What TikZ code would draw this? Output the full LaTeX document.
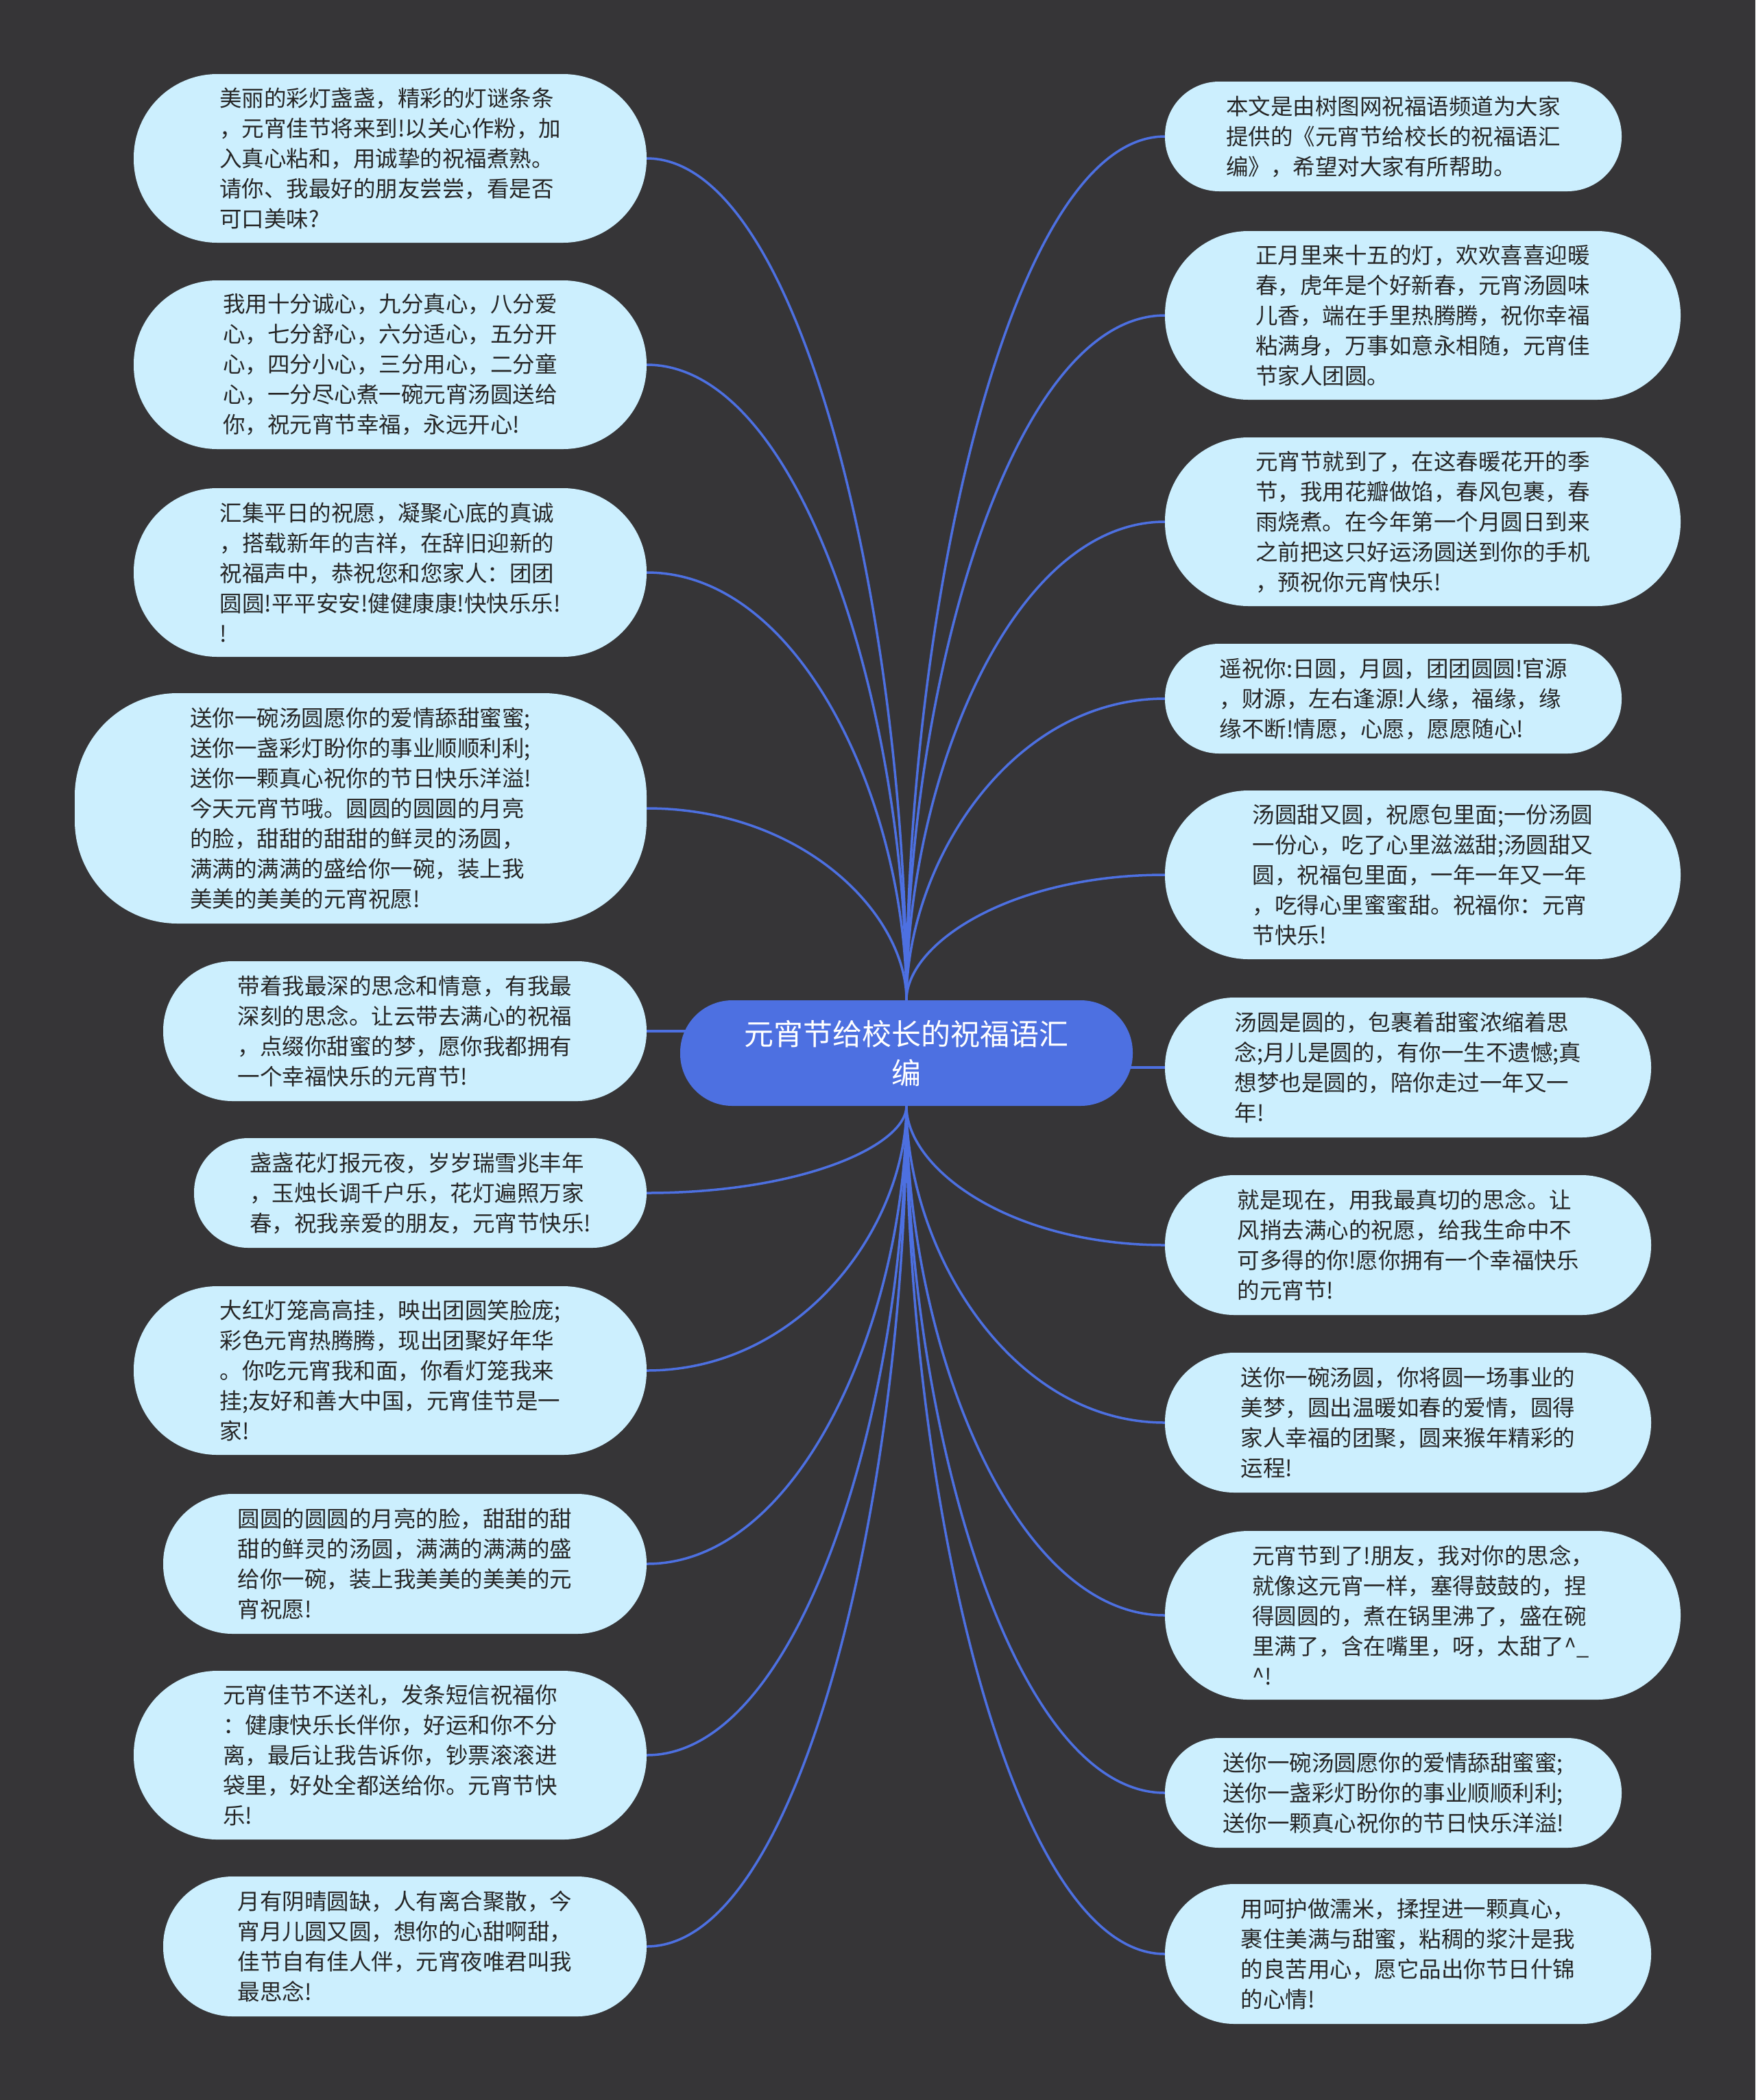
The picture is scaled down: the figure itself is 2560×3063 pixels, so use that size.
\documentclass[tikz,border=0pt]{standalone}
\usepackage{fontspec}
\setmainfont{Noto Sans CJK SC}
\usetikzlibrary{calc}
\pgfdeclarelayer{bg}
\pgfsetlayers{bg,main}
\definecolor{bgc}{HTML}{363537}
\definecolor{leaffill}{HTML}{CCEFFE}
\definecolor{leaftext}{HTML}{262626}
\definecolor{rootfill}{HTML}{4D70E1}
\definecolor{linec}{HTML}{4D70E1}
\newcommand\leaffont{\fontsize{32.5pt}{44pt}\selectfont}
\newcommand\rootfont{\fontsize{43pt}{57pt}\selectfont}
\newcommand\mmconn[2]{\draw[conn] (#1) .. controls ($(#1)!0.45!(#1 |- #2)$) and ($(#1 |- #2)!0.4!(#2)$) .. (#2);}
\tikzset{
  leaf/.style={fill=leaffill, text=leaftext, font=\leaffont, align=left, inner sep=0pt, minimum width=#1},
  hthree/.style={minimum height=160pt, rounded corners=79pt},
  hfour/.style={minimum height=204pt, rounded corners=101pt},
  hfive/.style={minimum height=246pt, rounded corners=122pt},
  hseven/.style={minimum height=336pt, rounded corners=150pt},
  rootbox/.style={fill=rootfill, text=white, font=\rootfont, align=center, inner sep=0pt,
    minimum width=660pt, minimum height=154pt, rounded corners=76pt},
  conn/.style={draw=linec, line width=3.5pt, line cap=round}
}
\begin{document}
\begin{tikzpicture}[x=1pt,y=-1pt]
\useasboundingbox (0,0) rectangle (2560,3063);
% central
\node[rootbox] (c) at (1322,1536) {元宵节给校长的祝福语汇\\编};
% left
\node[leaf=748pt,hfive] (L1) at (569,231) {美丽的彩灯盏盏，精彩的灯谜条条\\，元宵佳节将来到!以关心作粉，加\\入真心粘和，用诚挚的祝福煮熟。\\请你、我最好的朋友尝尝，看是否\\可口美味?};
\node[leaf=748pt,hfive] (L2) at (569,532) {我用十分诚心，九分真心，八分爱\\心，七分舒心，六分适心，五分开\\心，四分小心，三分用心，二分童\\心，一分尽心煮一碗元宵汤圆送给\\你，祝元宵节幸福，永远开心!};
\node[leaf=748pt,hfive] (L3) at (569,835) {汇集平日的祝愿，凝聚心底的真诚\\，搭载新年的吉祥，在辞旧迎新的\\祝福声中，恭祝您和您家人：团团\\圆圆!平平安安!健健康康!快快乐乐!\\!};
\node[leaf=834pt,hseven] (L4) at (526,1179) {送你一碗汤圆愿你的爱情舔甜蜜蜜;\\送你一盏彩灯盼你的事业顺顺利利;\\送你一颗真心祝你的节日快乐洋溢!\\今天元宵节哦。圆圆的圆圆的月亮\\的脸，甜甜的甜甜的鲜灵的汤圆，\\满满的满满的盛给你一碗，装上我\\美美的美美的元宵祝愿!};
\node[leaf=705pt,hfour] (L5) at (590.5,1504) {带着我最深的思念和情意，有我最\\深刻的思念。让云带去满心的祝福\\，点缀你甜蜜的梦，愿你我都拥有\\一个幸福快乐的元宵节!};
\node[leaf=660pt,hthree] (L6) at (613,1740) {盏盏花灯报元夜，岁岁瑞雪兆丰年\\，玉烛长调千户乐，花灯遍照万家\\春，祝我亲爱的朋友，元宵节快乐!};
\node[leaf=748pt,hfive] (L7) at (569,1999) {大红灯笼高高挂，映出团圆笑脸庞;\\彩色元宵热腾腾，现出团聚好年华\\。你吃元宵我和面，你看灯笼我来\\挂;友好和善大中国，元宵佳节是一\\家!};
\node[leaf=705pt,hfour] (L8) at (590.5,2281) {圆圆的圆圆的月亮的脸，甜甜的甜\\甜的鲜灵的汤圆，满满的满满的盛\\给你一碗，装上我美美的美美的元\\宵祝愿!};
\node[leaf=748pt,hfive] (L9) at (569,2560) {元宵佳节不送礼，发条短信祝福你\\：健康快乐长伴你，好运和你不分\\离，最后让我告诉你，钞票滚滚进\\袋里，好处全都送给你。元宵节快\\乐!};
\node[leaf=705pt,hfour] (L10) at (590.5,2839) {月有阴晴圆缺，人有离合聚散，今\\宵月儿圆又圆，想你的心甜啊甜，\\佳节自有佳人伴，元宵夜唯君叫我\\最思念!};
% right
\node[leaf=666pt,hthree] (R1) at (2032,199) {本文是由树图网祝福语频道为大家\\提供的《元宵节给校长的祝福语汇\\编》，希望对大家有所帮助。};
\node[leaf=752pt,hfive] (R2) at (2075,460) {正月里来十五的灯，欢欢喜喜迎暖\\春，虎年是个好新春，元宵汤圆味\\儿香，端在手里热腾腾，祝你幸福\\粘满身，万事如意永相随，元宵佳\\节家人团圆。};
\node[leaf=752pt,hfive] (R3) at (2075,761) {元宵节就到了，在这春暖花开的季\\节，我用花瓣做馅，春风包裹，春\\雨烧煮。在今年第一个月圆日到来\\之前把这只好运汤圆送到你的手机\\，预祝你元宵快乐!};
\node[leaf=666pt,hthree] (R4) at (2032,1019) {遥祝你:日圆，月圆，团团圆圆!官源\\，财源，左右逢源!人缘，福缘，缘\\缘不断!情愿，心愿，愿愿随心!};
\node[leaf=752pt,hfive] (R5) at (2075,1276) {汤圆甜又圆，祝愿包里面;一份汤圆\\一份心，吃了心里滋滋甜;汤圆甜又\\圆，祝福包里面，一年一年又一年\\，吃得心里蜜蜜甜。祝福你：元宵\\节快乐!};
\node[leaf=709pt,hfour] (R6) at (2053.5,1557) {汤圆是圆的，包裹着甜蜜浓缩着思\\念;月儿是圆的，有你一生不遗憾;真\\想梦也是圆的，陪你走过一年又一\\年!};
\node[leaf=709pt,hfour] (R7) at (2053.5,1816) {就是现在，用我最真切的思念。让\\风捎去满心的祝愿，给我生命中不\\可多得的你!愿你拥有一个幸福快乐\\的元宵节!};
\node[leaf=709pt,hfour] (R8) at (2053.5,2075) {送你一碗汤圆，你将圆一场事业的\\美梦，圆出温暖如春的爱情，圆得\\家人幸福的团聚，圆来猴年精彩的\\运程!};
\node[leaf=752pt,hfive] (R9) at (2075,2356) {元宵节到了!朋友，我对你的思念，\\就像这元宵一样，塞得鼓鼓的，捏\\得圆圆的，煮在锅里沸了，盛在碗\\里满了，含在嘴里，呀，太甜了\textasciicircum\_\\\textasciicircum!};
\node[leaf=666pt,hthree] (R10) at (2032,2615) {送你一碗汤圆愿你的爱情舔甜蜜蜜;\\送你一盏彩灯盼你的事业顺顺利利;\\送你一颗真心祝你的节日快乐洋溢!};
\node[leaf=709pt,hfour] (R11) at (2053.5,2850) {用呵护做濡米，揉捏进一颗真心，\\裹住美满与甜蜜，粘稠的浆汁是我\\的良苦用心，愿它品出你节日什锦\\的心情!};
\begin{pgfonlayer}{bg}
\fill[bgc] (0,0) rectangle (2560,3063);
\foreach \n in {L1,L2,L3,L4} {\mmconn{c.north}{\n.east}}
\foreach \n in {R1,R2,R3,R4,R5} {\mmconn{c.north}{\n.west}}
\foreach \n in {L6,L7,L8,L9,L10} {\mmconn{c.south}{\n.east}}
\foreach \n in {R7,R8,R9,R10,R11} {\mmconn{c.south}{\n.west}}
\draw[conn] (c.center |- L5.east) -- (L5.east);
\draw[conn] (c.center |- R6.west) -- (R6.west);
\end{pgfonlayer}
\end{tikzpicture}
\end{document}
